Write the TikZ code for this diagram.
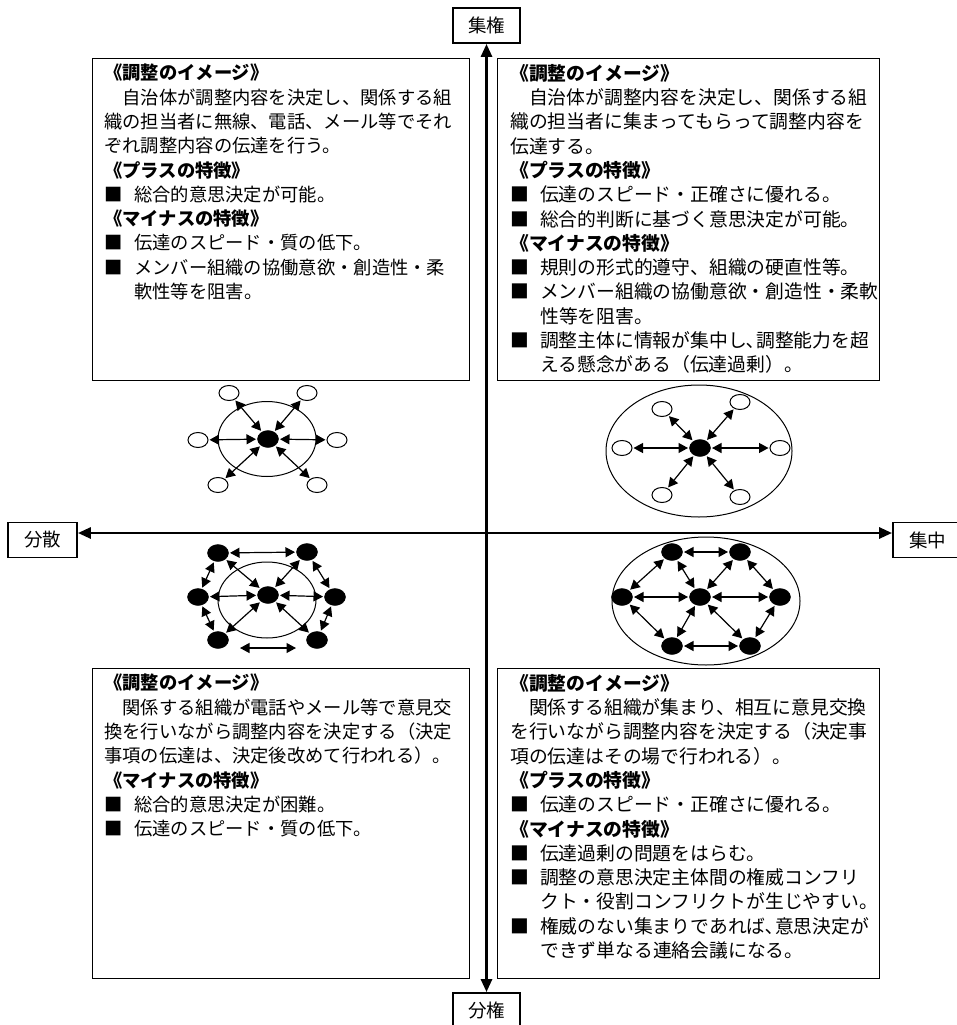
\documentclass[tikz,border=0pt]{standalone}
\usepackage{fontspec}
\newfontfamily\jp{Noto Sans CJK JP}
\usetikzlibrary{arrows.meta,shapes.geometric}
\newcommand{\hd}[1]{{\bfseries #1}}
\newcommand{\bul}[1]{\makebox[30pt][l]{■}#1}
\newcommand{\cnt}[1]{\hspace*{30pt}#1}
\tikzset{
  panel/.style={draw,line width=1.3pt,rectangle,inner sep=0pt,anchor=north west},
  ltext/.style={anchor=north west,inner sep=0pt,align=left,text width=365pt,font=\jp\fontsize{18.3}{24.3}\selectfont},
  rtext/.style={anchor=north west,inner sep=0pt,align=left,text width=370pt,font=\jp\fontsize{18.8}{24.3}\selectfont},
  lab/.style={draw,line width=1.8pt,font=\jp\fontsize{18.5}{20}\selectfont,minimum width=67pt,minimum height=35pt,inner sep=0pt},
  axis/.style={line width=2.8pt,{Triangle[length=13pt,width=11pt]}-{Triangle[length=13pt,width=11pt]}},
  wn/.style={ellipse,draw,line width=1pt,fill=white,minimum width=20pt,minimum height=15pt,inner sep=0pt,outer sep=1.5pt},
  bn/.style={ellipse,draw,fill=black,minimum width=21pt,minimum height=17pt,inner sep=0pt,outer sep=1.5pt},
  ring/.style={ellipse,draw,line width=1pt,inner sep=0pt},
  dar/.style={line width=1.2pt,{Triangle[length=9.5pt,width=10pt]}-{Triangle[length=9.5pt,width=10pt]}}
}
\begin{document}
\begin{tikzpicture}[x=1pt,y=-1pt]
\useasboundingbox (0,0) rectangle (956,1025);
% axis labels
\node[lab] (shuken) at (486.5,25.5) {集権};
\node[lab] (bunken) at (486.5,1010.5) {分権};
\node[lab,minimum width=69pt] (bunsan) at (42.5,540) {分散};
\node[lab,minimum width=69pt] (shuchu) at (927.5,540) {集中};
\draw[axis] (shuken.south) -- (bunken.north);
\draw[axis] ([yshift=7pt]bunsan.east) -- ([yshift=7pt]shuchu.west);
% panels
\node[panel,minimum width=377pt,minimum height=322pt] (ptl) at (92,58) {};
\node[panel,minimum width=382pt,minimum height=322pt] (ptr) at (497,58) {};
\node[panel,minimum width=377pt,minimum height=310pt] (pbl) at (92,668) {};
\node[panel,minimum width=382pt,minimum height=310pt] (pbr) at (497,668) {};
\node[ltext] (ttl) at ([xshift=12pt,yshift=-6pt]ptl.north west) {%
\hd{《調整のイメージ》}\\
　自治体が調整内容を決定し、関係する組\\
織の担当者に無線、電話、メール等でそれ\\
ぞれ調整内容の伝達を行う。\\
\hd{《プラスの特徴》}\\
\bul{総合的意思決定が可能。}\\
\hd{《マイナスの特徴》}\\
\bul{伝達のスピード・質の低下。}\\
\bul{メンバー組織の協働意欲・創造性・柔}\\
\cnt{軟性等を阻害。}};
\node[rtext] (ttr) at ([xshift=13pt,yshift=-6pt]ptr.north west) {%
\hd{《調整のイメージ》}\\
　自治体が調整内容を決定し、関係する組\\
織の担当者に集まってもらって調整内容を\\
伝達する。\\
\hd{《プラスの特徴》}\\
\bul{伝達のスピード・正確さに優れる。}\\
\bul{総合的判断に基づく意思決定が可能。}\\
\hd{《マイナスの特徴》}\\
\bul{規則の形式的遵守、組織の硬直性等。}\\
\bul{メンバー組織の協働意欲・創造性・柔軟}\\
\cnt{性等を阻害。}\\
\bul{調整主体に情報が集中し､調整能力を超}\\
\cnt{える懸念がある（伝達過剰）。}};
\node[ltext] (tbl) at ([xshift=12pt,yshift=-6pt]pbl.north west) {%
\hd{《調整のイメージ》}\\
　関係する組織が電話やメール等で意見交\\
換を行いながら調整内容を決定する（決定\\
事項の伝達は、決定後改めて行われる）。\\
\hd{《マイナスの特徴》}\\
\bul{総合的意思決定が困難。}\\
\bul{伝達のスピード・質の低下。}};
\node[rtext] (tbr) at ([xshift=13pt,yshift=-6pt]pbr.north west) {%
\hd{《調整のイメージ》}\\
　関係する組織が集まり、相互に意見交換\\
を行いながら調整内容を決定する（決定事\\
項の伝達はその場で行われる）。\\
\hd{《プラスの特徴》}\\
\bul{伝達のスピード・正確さに優れる。}\\
\hd{《マイナスの特徴》}\\
\bul{伝達過剰の問題をはらむ。}\\
\bul{調整の意思決定主体間の権威コンフリ}\\
\cnt{クト・役割コンフリクトが生じやすい。}\\
\bul{権威のない集まりであれば､意思決定が}\\
\cnt{できず単なる連絡会議になる。}};
% diagram 1 (top-left)
\node[ring,minimum width=98pt,minimum height=75pt] (r1) at (267,439) {};
\node[bn] (c1) at (268,439) {};
\node[wn] (a1) at (229,393) {};
\node[wn] (a2) at (307,393) {};
\node[wn] (a3) at (198,440) {};
\node[wn] (a4) at (337,440) {};
\node[wn] (a5) at (218,485) {};
\node[wn] (a6) at (317,485) {};
\foreach \n in {a1,a2,a3,a4,a5,a6} \draw[dar] (c1) -- (\n);
% diagram 2 (top-right)
\node[ring,minimum width=186pt,minimum height=132pt] (r2) at (699,451) {};
\node[bn] (c2) at (700,448) {};
\node[wn] (b1) at (662,409) {};
\node[wn] (b2) at (740,402) {};
\node[wn] (b3) at (622,448) {};
\node[wn] (b4) at (780,448) {};
\node[wn] (b5) at (662,495) {};
\node[wn] (b6) at (740,497) {};
\foreach \n in {b1,b2,b3,b4,b5,b6} \draw[dar] (c2) -- (\n);
% diagram 3 (bottom-left)
\node[ring,minimum width=98pt,minimum height=76pt] (r3) at (267,600) {};
\node[bn] (c3) at (268,595) {};
\node[bn] (d1) at (218,553) {};
\node[bn] (d2) at (307,552) {};
\node[bn] (d3) at (198,597) {};
\node[bn] (d4) at (335,597) {};
\node[bn] (d5) at (218,640) {};
\node[bn] (d6) at (317,640) {};
\foreach \n in {d1,d2,d3,d4,d5,d6} \draw[dar] (c3) -- (\n);
\draw[dar] (d1) -- (d2);
\draw[dar] (d1) -- (d3);
\draw[dar] (d3) -- (d5);
\draw[dar] (d2) -- (d4);
\draw[dar] (d4) -- (d6);
\draw[dar] ([xshift=10pt,yshift=-8pt]d5.east) -- ([xshift=-9pt,yshift=-8pt]d6.west);
% diagram 4 (bottom-right)
\node[ring,minimum width=188pt,minimum height=128pt] (r4) at (706,601) {};
\node[bn] (e1) at (672,552) {};
\node[bn] (e2) at (740,552) {};
\node[bn] (e3) at (622,597) {};
\node[bn] (c4) at (700,597) {};
\node[bn] (e4) at (780,597) {};
\node[bn] (e5) at (672,646) {};
\node[bn] (e6) at (750,646) {};
\draw[dar] (e1) -- (e2);
\draw[dar] (e1) -- (e3);
\draw[dar] (e1) -- (c4);
\draw[dar] (e2) -- (c4);
\draw[dar] (e2) -- (e4);
\draw[dar] (e3) -- (c4);
\draw[dar] (c4) -- (e4);
\draw[dar] (e3) -- (e5);
\draw[dar] (e5) -- (c4);
\draw[dar] (c4) -- (e6);
\draw[dar] (e4) -- (e6);
\draw[dar] (e5) -- (e6);
\end{tikzpicture}
\end{document}
